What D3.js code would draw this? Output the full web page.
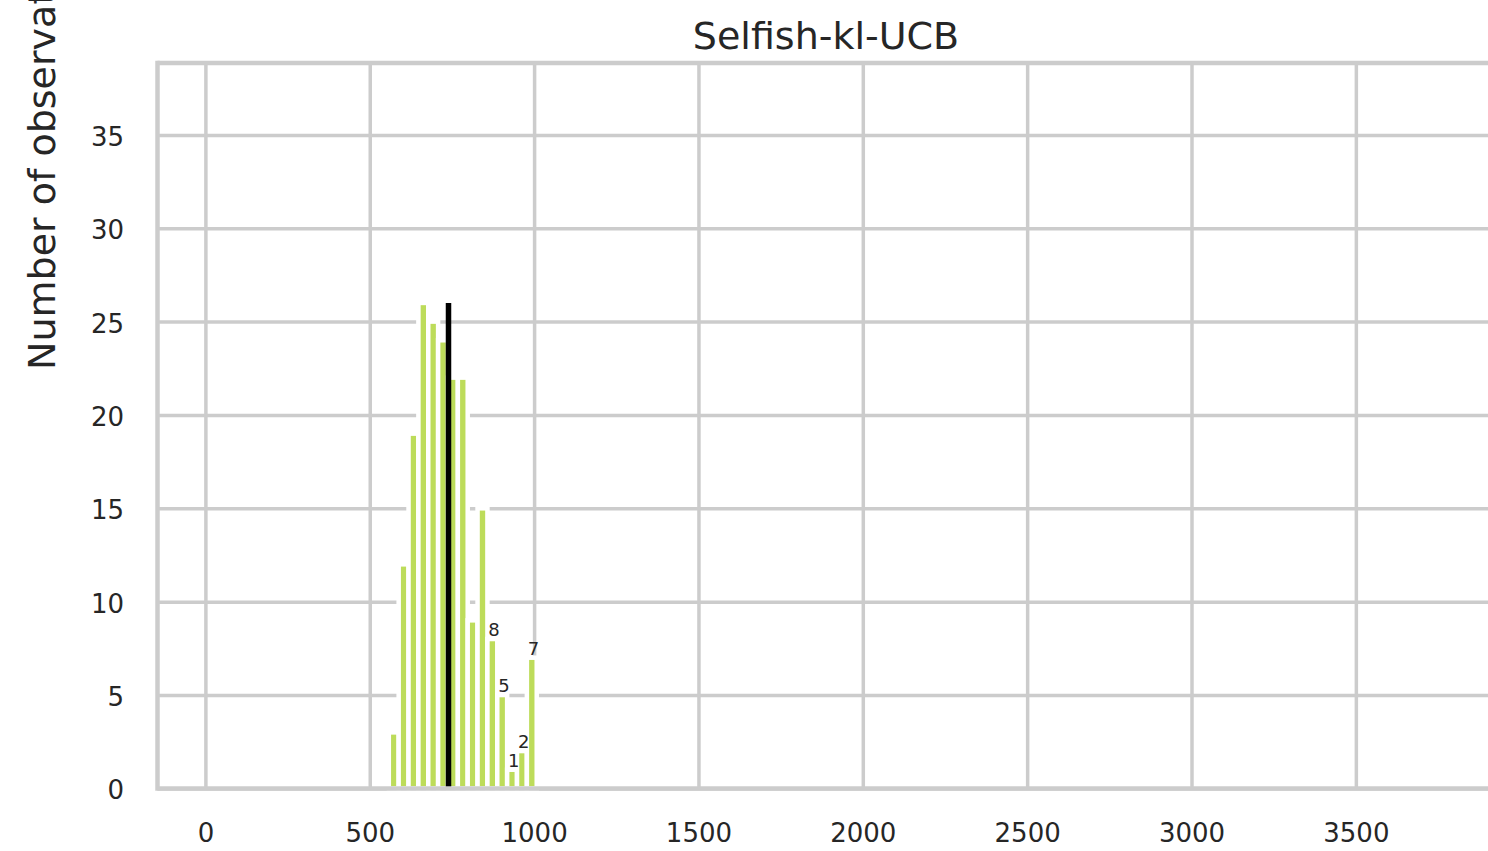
<!DOCTYPE html>
<html>
<head>
<meta charset="utf-8">
<script src="https://cdn.jsdelivr.net/npm/d3@7"></script>
<style>
  html, body { margin: 0; padding: 0; background: #ffffff; overflow: hidden; }
  svg { display: block; font-family: "DejaVu Sans", sans-serif; }
</style>
</head>
<body>
<svg id="chart" width="1488" height="851"></svg>
<script>
// ---- data ----
const binEdges = [558, 588, 618, 648, 678, 708, 738, 768, 798, 828, 858, 888, 918, 948, 978, 1008];
const counts   = [3, 12, 19, 26, 25, 24, 22, 22, 9, 15, 8, 5, 1, 2, 7];
const labelledBins = [10, 11, 12, 13, 14];
const meanValue = 739.6;
const xTicks = [0, 500, 1000, 1500, 2000, 2500, 3000, 3500];
const yTicks = [0, 5, 10, 15, 20, 25, 30, 35];
const xDomain = [-145.7, 3921.8];
const yDomain = [0, 38.85];
const titleText = "Selfish-kl-UCB";
const yLabelText = "Number of observations";

(function () {
// ---- layout ----
const svg = d3.select("#chart");
const pLeft = 157.5, pRight = 1494.5, pTop = 63, pBottom = 788.4;
const x = d3.scaleLinear().domain(xDomain).range([pLeft, pRight]);
const y = d3.scaleLinear().domain(yDomain).range([pBottom, pTop]);
const gridColor = "#cccccc", textColor = "#262626", barColor = "#bddc5a";

// grid
const gx = svg.append("g").attr("transform", `translate(0,${pBottom})`)
  .call(d3.axisBottom(x).tickValues(xTicks).tickSize(-(pBottom - pTop)).tickFormat(""));
gx.select(".domain").remove();
gx.selectAll("line").attr("stroke", gridColor).attr("stroke-width", 3.5);

const gy = svg.append("g").attr("transform", `translate(${pLeft},0)`)
  .call(d3.axisLeft(y).tickValues(yTicks).tickSize(-(pRight - pLeft)).tickFormat(""));
gy.select(".domain").remove();
gy.selectAll("line").attr("stroke", gridColor).attr("stroke-width", 3.5);

// bars
const bins = counts.map((c, i) => ({ x0: binEdges[i], x1: binEdges[i + 1], count: c, i }));
svg.append("g").selectAll("rect").data(bins).join("rect")
  .attr("x", d => x(d.x0))
  .attr("width", d => x(d.x1) - x(d.x0))
  .attr("y", d => y(d.count))
  .attr("height", d => y(0) - y(d.count))
  .attr("fill", barColor)
  .attr("stroke", "#ffffff")
  .attr("stroke-width", 4.5);

// mean line
svg.append("line")
  .attr("x1", x(meanValue)).attr("x2", x(meanValue))
  .attr("y1", y(0)).attr("y2", y(d3.max(counts)))
  .attr("stroke", "#000000").attr("stroke-width", 5.5);

// spines
const spines = svg.append("g").attr("stroke", gridColor).attr("stroke-width", 4.5).attr("fill", "none");
spines.append("line").attr("x1", pLeft).attr("x2", pLeft).attr("y1", pTop - 2.25).attr("y2", pBottom + 2.25);
spines.append("line").attr("x1", pLeft).attr("x2", pRight).attr("y1", pTop).attr("y2", pTop);
spines.append("line").attr("x1", pLeft).attr("x2", pRight).attr("y1", pBottom).attr("y2", pBottom);

// bar value labels
svg.append("g").selectAll("text").data(bins.filter(d => labelledBins.includes(d.i))).join("text")
  .attr("x", d => x((d.x0 + d.x1) / 2) + 1.7)
  .attr("y", d => y(d.count) - 3)
  .attr("text-anchor", "middle")
  .attr("font-size", 18)
  .attr("fill", textColor)
  .text(d => d.count);

// tick labels
const xl = svg.append("g").attr("transform", `translate(0,${pBottom})`)
  .call(d3.axisBottom(x).tickValues(xTicks).tickSize(0).tickFormat(d3.format("d")));
xl.select(".domain").remove();
xl.selectAll("text").attr("y", 53.6).attr("dy", null)
  .attr("font-size", 26).attr("font-family", "DejaVu Sans").attr("fill", textColor);

const yl = svg.append("g").attr("transform", `translate(${pLeft},0)`)
  .call(d3.axisLeft(y).tickValues(yTicks).tickSize(0).tickFormat(d3.format("d")));
yl.select(".domain").remove();
yl.selectAll("text").attr("x", 124 - pLeft).attr("dy", null).attr("y", 10.5)
  .attr("font-size", 26).attr("font-family", "DejaVu Sans").attr("fill", textColor);

// title
svg.append("text")
  .attr("x", (pLeft + pRight) / 2).attr("y", 48.5)
  .attr("text-anchor", "middle")
  .attr("font-size", 38).attr("fill", textColor)
  .text(titleText);

// y label
svg.append("text")
  .attr("transform", `translate(55,370) rotate(-90)`)
  .attr("text-anchor", "start")
  .attr("font-size", 38).attr("fill", textColor)
  .text(yLabelText);
})();
</script>
</body>
</html>
